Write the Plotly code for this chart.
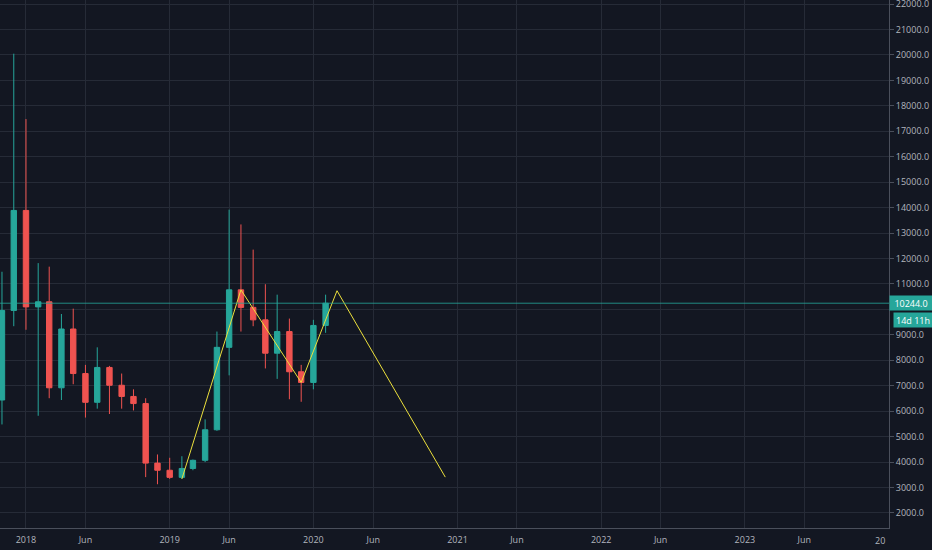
import plotly.graph_objects as go

# monthly candles
months = ["2017-11-01", "2017-12-01", "2018-01-01", "2018-02-01", "2018-03-01",
          "2018-04-01", "2018-05-01", "2018-06-01", "2018-07-01", "2018-08-01",
          "2018-09-01", "2018-10-01", "2018-11-01", "2018-12-01", "2019-01-01",
          "2019-02-01", "2019-03-01", "2019-04-01", "2019-05-01", "2019-06-01",
          "2019-07-01", "2019-08-01", "2019-09-01", "2019-10-01", "2019-11-01",
          "2019-12-01", "2020-01-01", "2020-02-01"]
opens = [6440, 9960, 13890, 10100, 10300, 6920, 9230, 7480, 6350, 7720,
         7020, 6580, 6300, 3960, 3680, 3400, 3750, 4070, 5270, 8510,
         10770, 10080, 9590, 8280, 9130, 7550, 7130, 9370]
highs = [11480, 20050, 17480, 11820, 11680, 9820, 10030, 7820, 8510, 7780,
         7480, 6860, 6510, 4300, 4170, 4230, 4100, 5680, 9130, 13920,
         13340, 12350, 10990, 10580, 9640, 7820, 9590, 10580]
lows = [5480, 9340, 9200, 5820, 6510, 6440, 7060, 5750, 6100, 5890,
        6100, 6030, 3410, 3130, 3340, 3340, 3680, 4000, 5230, 7410,
        9130, 9340, 7680, 7270, 6470, 6370, 6860, 9080]
closes = [9960, 13890, 10100, 10300, 6920, 9230, 7480, 6350, 7720, 7020,
          6580, 6300, 3960, 3680, 3400, 3750, 4070, 5270, 8510, 10770,
          10080, 9590, 8280, 9130, 7550, 7130, 9370, 10244]

# hand drawn projection path
path_x = ["2019-02-01", "2019-07-01", "2019-12-01", "2020-03-01", "2020-12-01"]
path_y = [3340, 10770, 7130, 10735, 3410]

last_price = 10244
countdown = "14d 11h"

xtick_vals = ["2018-01-01", "2018-06-01", "2019-01-01", "2019-06-01", "2020-01-01",
              "2020-06-01", "2021-01-01", "2021-06-01", "2022-01-01", "2022-06-01",
              "2023-01-01", "2023-06-01"]
xtick_text = ["2018", "Jun", "2019", "Jun", "2020", "Jun", "2021", "Jun",
              "2022", "Jun", "2023", "Jun"]
ytick_vals = list(range(2000, 23000, 1000))
# 10000.0 sits under the last-price badge, so its label is left blank
ytick_text = ["" if v == 10000 else "%.1f" % v for v in ytick_vals]

bg = "#131722"
grid = "#262b37"
axis_col = "#4a4f5b"
txt = "#b2b5be"
up = "#26a69a"
down = "#ef5350"

data = [
    go.Candlestick(x=months, open=opens, high=highs, low=lows, close=closes,
                   increasing=dict(line=dict(color=up, width=1), fillcolor=up),
                   decreasing=dict(line=dict(color=down, width=1), fillcolor=down),
                   whiskerwidth=0),
    go.Scatter(x=path_x, y=path_y, mode="lines",
               line=dict(color="#ece03c", width=1)),
]

layout = go.Layout(
    width=932, height=550,
    margin=dict(l=0, r=43, t=0, b=22, autoexpand=False),
    paper_bgcolor=bg, plot_bgcolor=bg,
    showlegend=False,
    font=dict(family="Open Sans", size=9, color=txt),
    xaxis=dict(range=["2017-10-27", "2024-01-02"], rangeslider=dict(visible=False),
               tickvals=xtick_vals, ticktext=xtick_text, tickangle=0,
               showgrid=True, gridcolor=grid, gridwidth=1,
               showline=True, linecolor=axis_col, linewidth=1,
               zeroline=False, ticks="", ticklabelstandoff=3),
    yaxis=dict(range=[1410, 22160], side="right", tickvals=ytick_vals,
               ticktext=ytick_text, showgrid=True, gridcolor=grid, gridwidth=1,
               showline=True, linecolor=axis_col, linewidth=1,
               ticks="outside", ticklen=4, tickcolor=axis_col,
               ticklabeloverflow="allow", zeroline=False),
    shapes=[dict(type="line", xref="paper", x0=0, x1=1, yref="y",
                 y0=last_price, y1=last_price,
                 line=dict(color=up, width=1), opacity=0.8)],
    annotations=[
        dict(xref="paper", x=1, yref="y", y=last_price, xanchor="left",
             yanchor="middle", text="%.1f" % last_price, showarrow=False,
             bgcolor=up, width=40, height=12, borderpad=1,
             font=dict(color="#ffffff", size=9)),
        dict(xref="paper", x=1.0045, yref="y", y=last_price, yshift=-17,
             xanchor="left", yanchor="middle", text=countdown, showarrow=False,
             bgcolor=up, width=36, height=12, borderpad=1,
             font=dict(color="#ffffff", size=9)),
        dict(xref="paper", x=0.998, yref="paper", y=0, yshift=-12,
             xanchor="right", yanchor="middle", text="20", showarrow=False,
             font=dict(color=txt, size=9)),
    ],
)

fig = go.Figure(data=data, layout=layout)
fig.write_html("out.html", config={"displayModeBar": False},
               post_script="document.body.style.margin='0';document.body.style.padding='0';")
